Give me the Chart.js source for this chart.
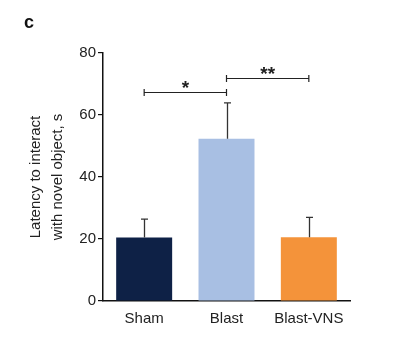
<!DOCTYPE html>
<html>
<head>
<meta charset="utf-8">
<script src="https://cdn.jsdelivr.net/npm/chart.js@4/dist/chart.umd.min.js"></script>
<style>
    html, body { margin: 0; padding: 0; background: #fff; }
    #wrap { width: 401px; height: 358px; position: relative; }
</style>
</head>
<body>
<div id="wrap"><canvas id="chart" width="401" height="358"></canvas></div>
<script>
// data
const groups = ['Sham', 'Blast', 'Blast-VNS'];
const means = [20.5, 52.3, 20.6];
const sem = [5.9, 11.6, 6.4];
const barColors = ['#0e2146', '#a8bfe3', '#f4933a'];
const yTicks = [0, 20, 40, 60, 80];
// significance brackets: [from, to, label, height]
const sigFrom = [0, 1];
const sigTo = [1, 2];
const sigLabels = ['*', '**'];
const sigHeights = [67.5, 71.8];

const FONT = '"Liberation Sans", Arial, sans-serif';

const extras = {
    id: 'extras',
    afterDatasetsDraw(chart) {
        const ctx = chart.ctx;
        const x = chart.scales.x;
        const y = chart.scales.y;
        ctx.save();

        // error bars (upper only)
        ctx.strokeStyle = '#333';
        ctx.lineWidth = 1.3;
        means.forEach((m, i) => {
            const cx = Math.round(x.getPixelForValue(i)) + 0.5;
            const top = y.getPixelForValue(m + sem[i]);
            ctx.beginPath();
            ctx.moveTo(cx, y.getPixelForValue(m));
            ctx.lineTo(cx, top);
            ctx.moveTo(cx - 3.5, top);
            ctx.lineTo(cx + 3.5, top);
            ctx.stroke();
        });

        // significance brackets
        ctx.strokeStyle = '#222';
        ctx.lineWidth = 1.2;
        ctx.fillStyle = '#222';
        ctx.font = 'bold 19px ' + FONT;
        ctx.textAlign = 'center';
        ctx.textBaseline = 'alphabetic';
        sigLabels.forEach((lab, k) => {
            const x1 = x.getPixelForValue(sigFrom[k]);
            const x2 = x.getPixelForValue(sigTo[k]);
            const yy = Math.round(y.getPixelForValue(sigHeights[k])) + 0.5;
            ctx.beginPath();
            ctx.moveTo(x1, yy);
            ctx.lineTo(x2, yy);
            ctx.moveTo(x1, yy - 3.5);
            ctx.lineTo(x1, yy + 3.5);
            ctx.moveTo(x2, yy - 3.5);
            ctx.lineTo(x2, yy + 3.5);
            ctx.stroke();
            ctx.fillText(lab, (x1 + x2) / 2, yy + 1);
        });

        // panel letter
        ctx.font = 'bold 18px ' + FONT;
        ctx.fillStyle = '#111';
        ctx.textAlign = 'left';
        ctx.fillText('c', 24, 28);
        ctx.restore();
    }
};

new Chart(document.getElementById('chart'), {
    type: 'bar',
    data: {
        labels: groups,
        datasets: [{
            data: means,
            backgroundColor: barColors,
            borderWidth: 0,
            barPercentage: 0.68,
            categoryPercentage: 1
        }]
    },
    options: {
        responsive: false,
        animation: false,
        layout: { padding: { left: 0, top: 53, right: 51, bottom: 17 } },
        plugins: { legend: { display: false }, tooltip: { enabled: false } },
        scales: {
            x: {
                grid: { display: true, drawOnChartArea: false, drawTicks: false },
                border: { display: true, color: '#111', width: 1.5 },
                ticks: { color: '#222', font: { family: FONT, size: 15 }, padding: 9 },
                afterFit(scale) { scale.height = 40; }
            },
            y: {
                min: 0,
                max: 80,
                afterBuildTicks(scale) { scale.ticks = yTicks.map(v => ({ value: v })); },
                grid: { display: true, drawOnChartArea: false, drawTicks: true, tickLength: 5, color: '#111', lineWidth: 1.2 },
                border: { display: true, color: '#111', width: 1.5 },
                ticks: { color: '#222', font: { family: FONT, size: 15 }, padding: 2 },
                title: {
                    display: true,
                    text: ['Latency to interact', 'with novel object, s'],
                    color: '#222',
                    font: { family: FONT, size: 15, lineHeight: 1.45 },
                    padding: { top: 25, bottom: 0 }
                },
                afterFit(scale) { scale.width = 103; }
            }
        }
    },
    plugins: [extras]
});
</script>
</body>
</html>
